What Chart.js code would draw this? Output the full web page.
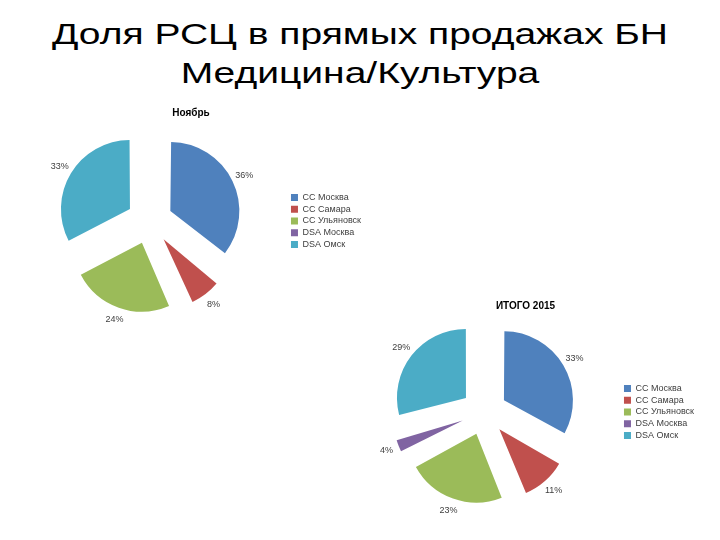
<!DOCTYPE html>
<html>
<head>
<meta charset="utf-8">
<script src="https://cdn.jsdelivr.net/npm/chart.js@4.4.1/dist/chart.umd.min.js"></script>
<style>
    body { margin: 0; width: 720px; height: 540px; background: #fff; position: relative; overflow: hidden; font-family: "Liberation Sans", Arial, sans-serif; }
    .naslov { position: absolute; left: 0; width: 720px; text-align: center; font-size: 30px; line-height: 30px; color: #000; white-space: nowrap; transform: scaleX(1.3); transform-origin: 360px 0; }
    canvas { position: absolute; }
</style>
</head>
<body>
<div class="naslov" style="top:19px">Доля РСЦ в прямых продажах БН</div>
<div class="naslov" style="top:58px">Медицина/Культура</div>
<canvas id="graf1" width="371" height="244" style="left:0px; top:99px"></canvas>
<canvas id="graf2" width="364" height="240" style="left:340px; top:292px"></canvas>
<script>
// Podaci
const kategorije = ['СС Москва', 'СС Самара', 'СС Ульяновск', 'DSA Москва', 'DSA Омск'];
const boje = ['#4F81BD', '#C0504D', '#9BBB59', '#8064A2', '#4BACC6'];
const noyabr = [36, 8, 24, 0, 33];
const itogo2015 = [33, 11, 23, 4, 29];

const RADIJUS = 69;
const ODMAK = 92; // chart.js pomice isjecak za offset/4

Chart.defaults.font.family = '"Liberation Sans", Arial, sans-serif';

// chart.js povecava radijus malih isjecaka kad je offset zadan, ovo to vraca
const popraviRadijus = {
    id: 'popraviRadijus',
    afterDatasetsUpdate(chart) {
        const meta = chart.getDatasetMeta(0);
        meta.data.forEach(arc => {
            const fix = 1 - Math.sin(Math.min(Math.PI, arc.circumference || 0));
            arc.outerRadius = RADIJUS - (ODMAK / 4) * fix;
        });
    }
};

// Postoci pored isjecaka
const oznake = {
    id: 'oznake',
    afterDatasetsDraw(chart) {
        const ctx = chart.ctx;
        const meta = chart.getDatasetMeta(0);
        const podaci = chart.data.datasets[0].data;
        ctx.save();
        ctx.font = '9px "Liberation Sans", Arial, sans-serif';
        ctx.fillStyle = '#404040';
        ctx.textAlign = 'center';
        ctx.textBaseline = 'middle';
        meta.data.forEach((arc, i) => {
            if (!arc.circumference) return;
            const kut = (arc.startAngle + arc.endAngle) / 2;
            const d = ODMAK / 4 + RADIJUS + 13;
            ctx.fillText(podaci[i] + '%', arc.x + Math.cos(kut) * d, arc.y + Math.sin(kut) * d);
        });
        ctx.restore();
    }
};

function nacrtajPitu(id, naslov, vrijednosti, lijevo) {
    const ctx = document.getElementById(id).getContext('2d');
    new Chart(ctx, {
        type: 'pie',
        data: {
            labels: kategorije,
            datasets: [{
                data: vrijednosti,
                backgroundColor: boje,
                borderWidth: 0,
                offset: ODMAK,
                radius: RADIJUS,
                clip: false
            }]
        },
        options: {
            responsive: false,
            animation: false,
            layout: { padding: { left: lijevo, bottom: 20 } },
            plugins: {
                title: {
                    display: true,
                    text: naslov,
                    color: '#000',
                    font: { size: 10, weight: 'bold' },
                    padding: { top: 8, bottom: 0 }
                },
                legend: {
                    position: 'right',
                    fullSize: false,
                    labels: {
                        boxWidth: 7,
                        boxHeight: 7,
                        padding: 2.7,
                        color: '#404040',
                        font: { size: 9 }
                    }
                },
                tooltip: { enabled: false }
            }
        },
        plugins: [popraviRadijus, oznake]
    });
}

nacrtajPitu('graf1', 'Ноябрь', noyabr, 11);
nacrtajPitu('graf2', 'ИТОГО 2015', itogo2015, 7);
</script>
</body>
</html>
